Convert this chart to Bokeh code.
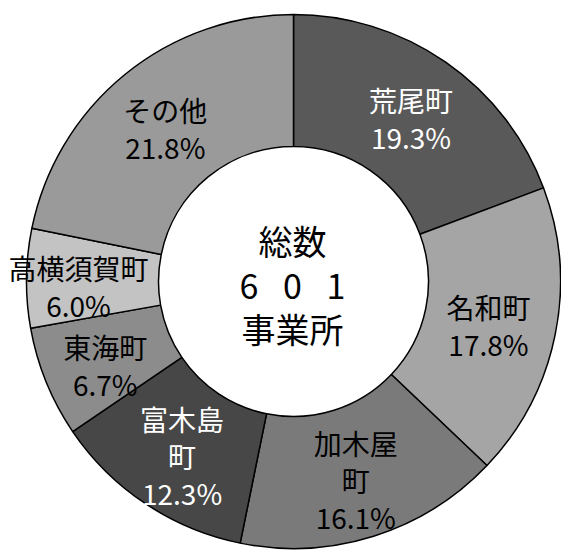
import math
from bokeh.plotting import figure
from bokeh.models import ColumnDataSource, Range1d
from bokeh.core.properties import value
from bokeh.embed import file_html
from bokeh.resources import INLINE

# data
towns = ["荒尾町", "名和町", "加木屋町", "富木島町", "東海町", "高横須賀町", "その他"]
label_lines = [["荒尾町"], ["名和町"], ["加木屋", "町"], ["富木島", "町"], ["東海町"], ["高横須賀町"], ["その他"]]
shares = [19.3, 17.8, 16.1, 12.3, 6.7, 6.0, 21.8]
colors = ["#595959", "#a5a5a5", "#7a7a7a", "#474747", "#8c8c8c", "#c3c3c3", "#9a9a9a"]
text_colors = ["white", "black", "black", "white", "black", "black", "black"]
total = 601
center_lines = ["総数", "\u2002 ".join(str(total)), "事業所"]

W, H = 561, 552
cx, cy = 293, H - 281
r_in, r_out = 135, 267
font = value("Noto Sans CJK JP")

p = figure(width=W, height=H, output_backend="svg", toolbar_location=None,
           x_range=Range1d(0, W), y_range=Range1d(0, H), min_border=0)
p.axis.visible = False
p.grid.visible = False
p.outline_line_color = None
p.background_fill_color = "white"
p.border_fill_color = "white"

tot = sum(shares)
starts, ends, mids = [], [], []
c = 0.0
for s in shares:
    a0 = math.pi / 2 - 2 * math.pi * c / tot
    c += s
    a1 = math.pi / 2 - 2 * math.pi * c / tot
    starts.append(a0)
    ends.append(a1)
    mids.append((a0 + a1) / 2)

src = ColumnDataSource(dict(x=[cx] * len(shares), y=[cy] * len(shares),
                            start=starts, end=ends, color=colors))
p.annular_wedge(x="x", y="y", inner_radius=r_in, outer_radius=r_out,
                start_angle="start", end_angle="end", direction="clock",
                fill_color="color", line_color="black", line_width=1.5, source=src)

# labels
nudges = [(3, -2), (-2, -4), (2, -7), (0, -7), (-2, -8), (-14, -8), (-1, -3)]
lh = 37
xs, ys, ts, tc = [], [], [], []
rm = (r_in + r_out) / 2
for i, name in enumerate(towns):
    lines = label_lines[i] + [f"{shares[i]:.1f}%"]
    bx = cx + rm * math.cos(mids[i]) + nudges[i][0]
    by = cy + rm * math.sin(mids[i]) + nudges[i][1]
    n = len(lines)
    for j, t in enumerate(lines):
        xs.append(bx)
        ys.append(by + ((n - 1) / 2 - j) * lh)
        ts.append(t)
        tc.append(text_colors[i])
p.text(x=xs, y=ys, text=ts, text_color=tc, text_font=font, text_font_size="28px",
       text_align="center", text_baseline="middle")

# center text
cyc = [H - 240, H - 284, H - 328]
p.text(x=[292] * 3, y=cyc, text=center_lines, text_color="black", text_font=font,
       text_font_size="34px", text_align="center", text_baseline="middle")

open("out.html", "w").write(file_html(p, INLINE))
